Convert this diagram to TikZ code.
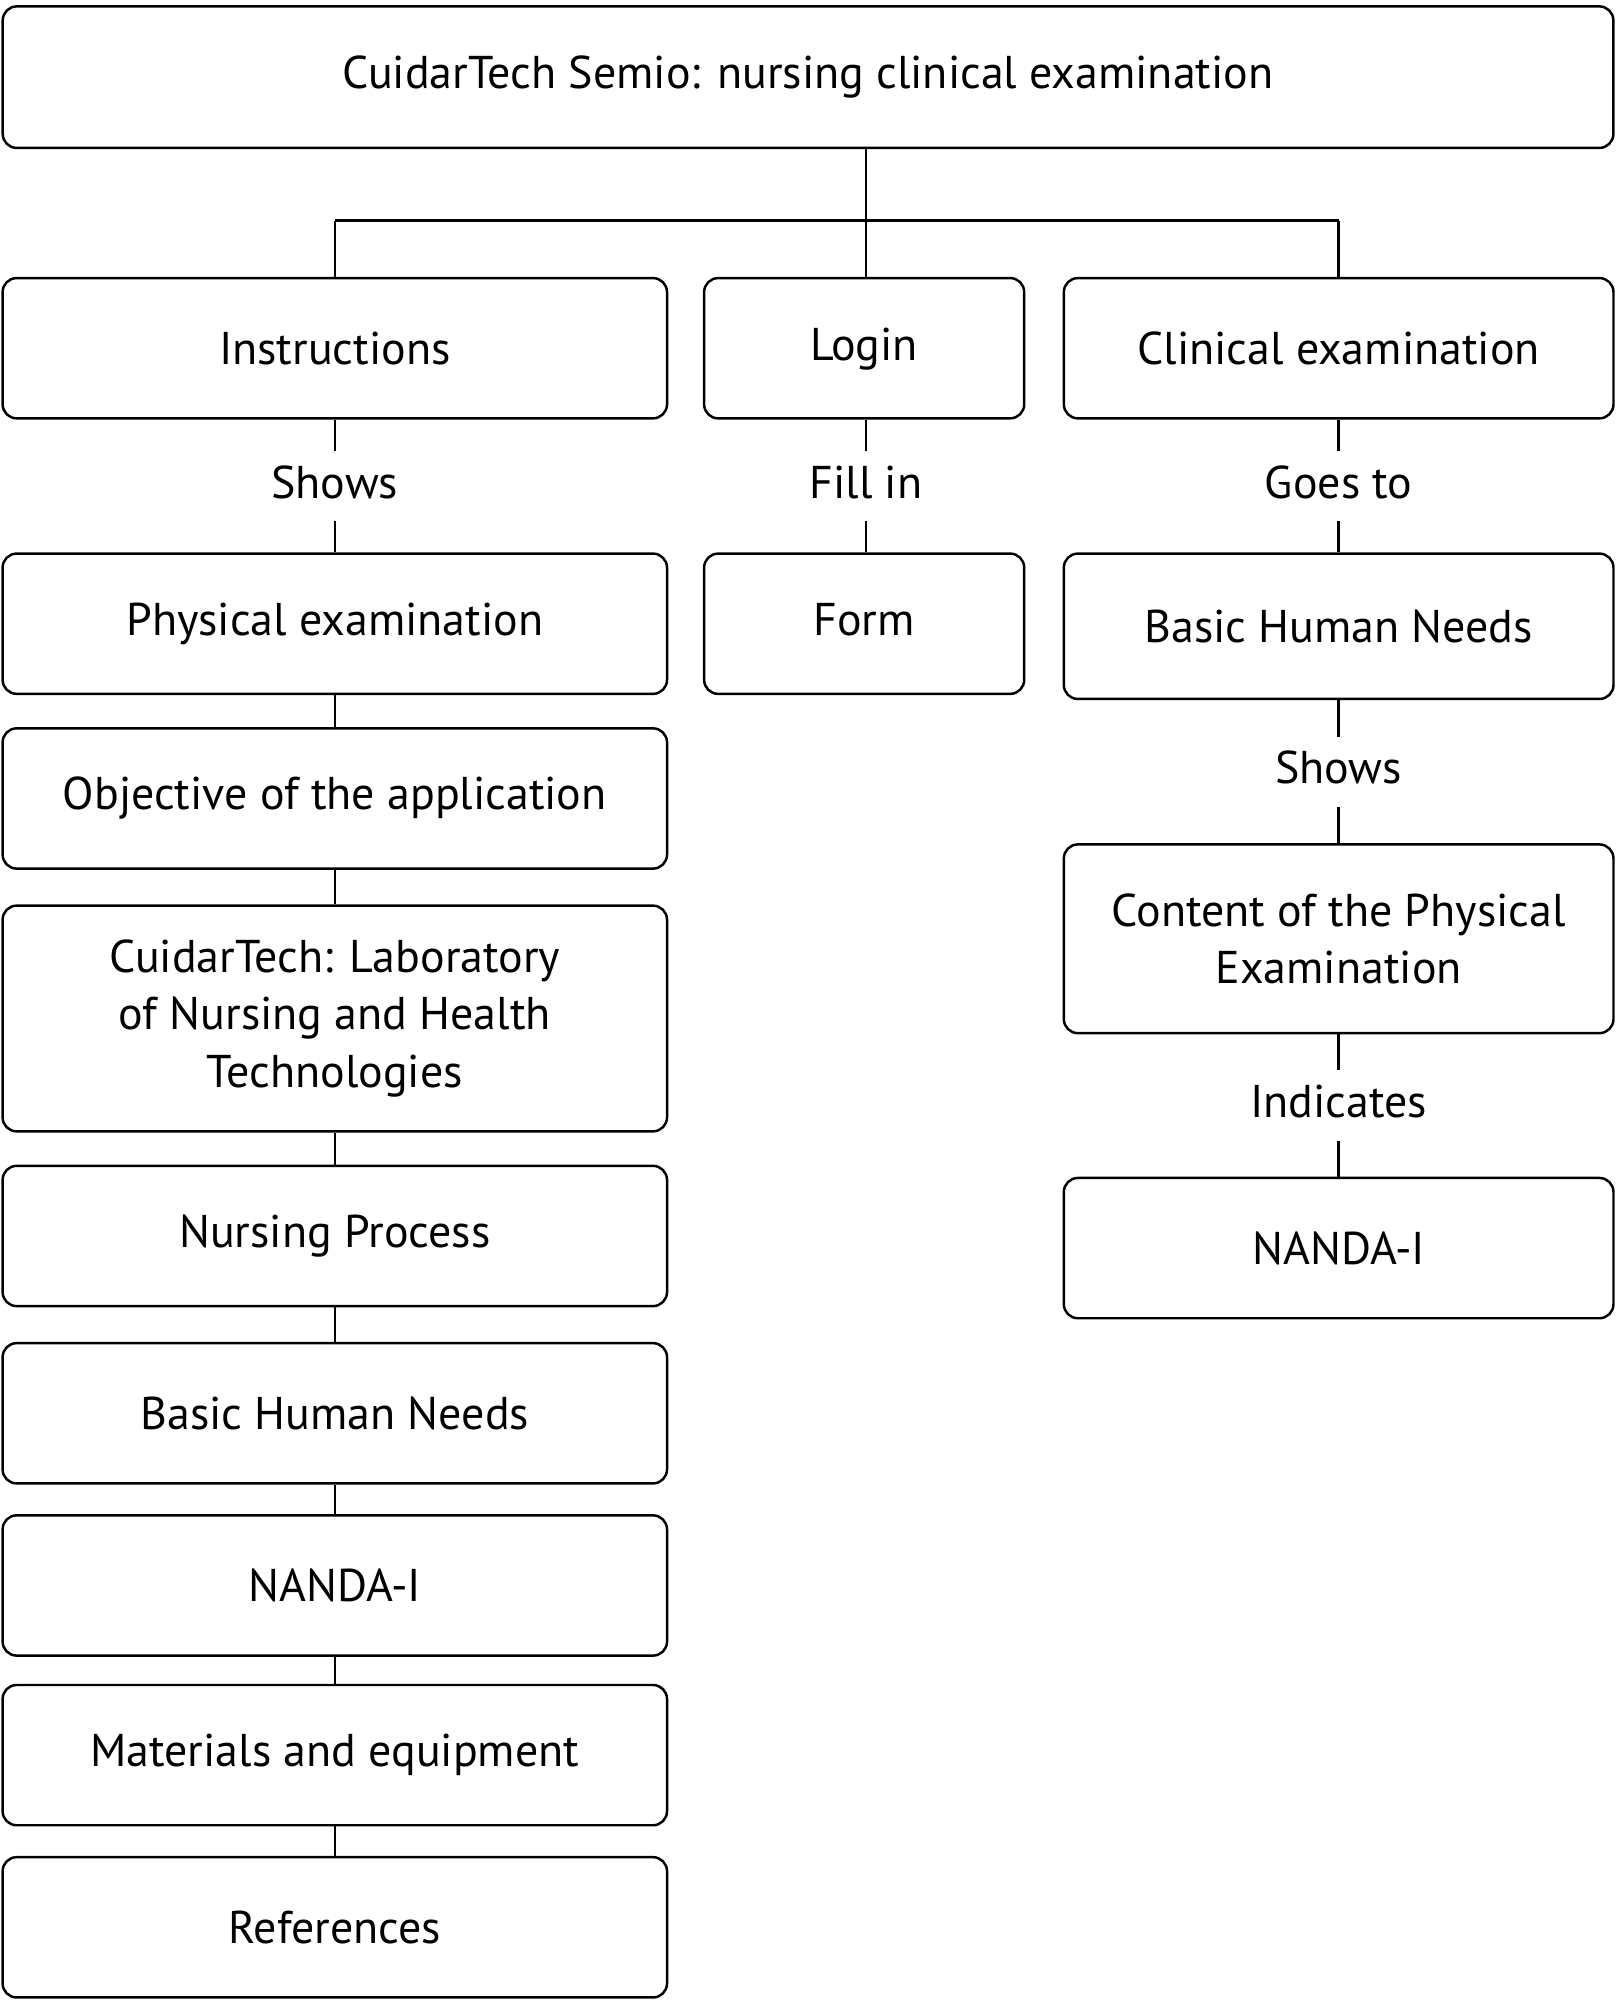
\documentclass[tikz,border=0pt]{standalone}
\usepackage{fontspec}
\setmainfont{PT Sans}
\begin{document}
\begin{tikzpicture}[x=0.02cm,y=-0.02cm,
 box/.style={draw,rounded corners=0.22cm,line width=1.1pt,inner sep=0pt,align=center,font=\fontsize{20.5}{25.5}\selectfont},
 lab/.style={fill=white,inner sep=0pt,minimum height=1.1cm,text height=0.5cm,text depth=0.12cm,font=\fontsize{20.5}{25.5}\selectfont},
 ln/.style={line width=1.1pt}]
\useasboundingbox (0,0) rectangle (1267,1568);
\node[box,minimum width=25.26cm,minimum height=2.22cm] (top) at (633.5,60.5) {CuidarTech Semio: nursing clinical examination};
% left column
\tikzset{L/.style={box,minimum width=10.42cm,minimum height=2.2cm}}
\node[L] (ins) at (262.5,273) {Instructions};
\node[L] (phy) at (262.5,489) {Physical examination};
\node[L] (obj) at (262.5,626) {Objective of the application};
\node[L,minimum height=3.54cm] (cui) at (262.5,798.5) {CuidarTech: Laboratory\\of Nursing and Health\\Technologies};
\node[L] (nur) at (262.5,969) {Nursing Process};
\node[L] (bhn) at (262.5,1108) {Basic Human Needs};
\node[L] (nan) at (262.5,1243) {NANDA-I};
\node[L] (mat) at (262.5,1376) {Materials and equipment};
\node[L] (ref) at (262.5,1511) {References};
% middle
\tikzset{M/.style={box,minimum width=5.02cm,minimum height=2.2cm,text height=0.5cm,text depth=0.12cm}}
\node[M] (log) at (677.5,273) {Login};
\node[M] (frm) at (677.5,489) {Form};
% right
\tikzset{R/.style={box,minimum width=8.62cm,minimum height=2.2cm}}
\node[R] (cli) at (1049.5,273) {Clinical examination};
\node[R,minimum height=2.28cm] (bhr) at (1049.5,491) {Basic Human Needs};
\node[R,minimum height=2.96cm] (con) at (1049.5,736) {Content of the Physical\\Examination};
\node[R] (nar) at (1049.5,978.5) {NANDA-I};
% tree
\coordinate (j) at (679,173);
\coordinate (jl) at (262.5,173);
\coordinate (jr) at (1049.5,173);
\draw[ln] (top.south -| j) -- (j);
\draw[ln] (jl) -- (jr);
\draw[ln] (jl) -- (ins.north);
\draw[ln] (j) -- (log.north -| j);
\draw[ln] (jr) -- (cli.north);
% labelled links
\draw[ln] (ins) -- node[lab]{Shows} (phy);
\draw[ln] (log.south -| j) -- node[lab]{Fill in} (frm.north -| j);
\draw[ln] (cli) -- node[lab]{Goes to} (bhr);
\draw[ln] (bhr) -- node[lab]{Shows} (con);
\draw[ln] (con) -- node[lab]{Indicates} (nar);
% plain links
\draw[ln] (phy) -- (obj);
\draw[ln] (obj) -- (cui);
\draw[ln] (cui) -- (nur);
\draw[ln] (nur) -- (bhn);
\draw[ln] (bhn) -- (nan);
\draw[ln] (nan) -- (mat);
\draw[ln] (mat) -- (ref);
\end{tikzpicture}
\end{document}
